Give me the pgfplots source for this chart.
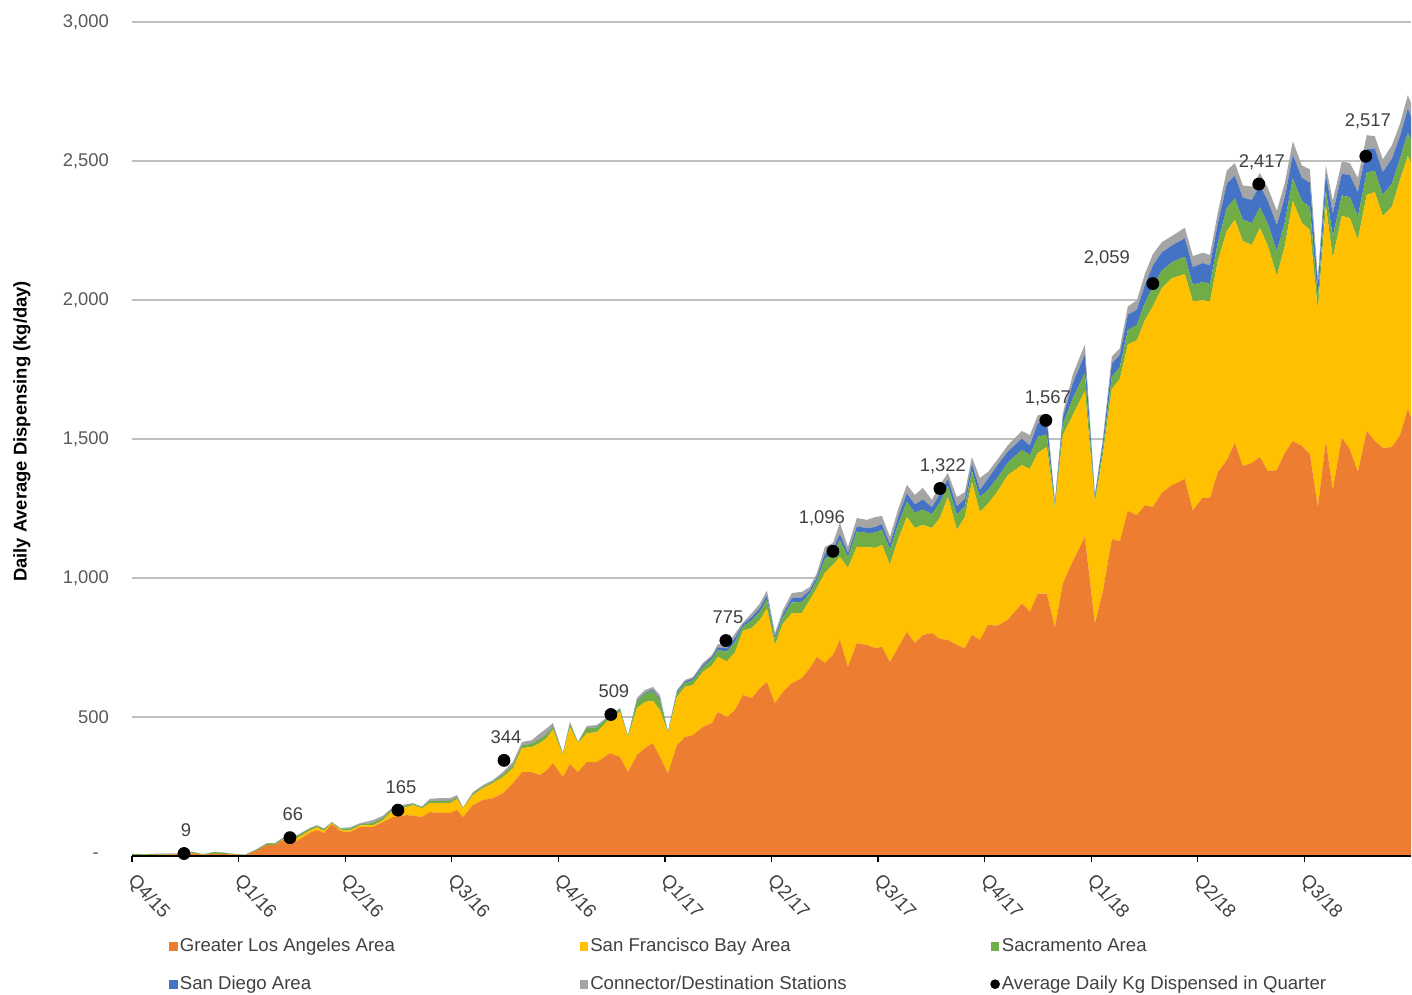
\documentclass[border=0pt]{standalone}
\usepackage{fontspec}
\setmainfont{Liberation Sans}
\usepackage{pgfplots}
\pgfplotsset{compat=1.18}
\usepackage{pgfplotstable}
\definecolor{cLA}{HTML}{ED7D31}
\definecolor{cSF}{HTML}{FFC000}
\definecolor{cSac}{HTML}{70AD47}
\definecolor{cSD}{HTML}{4472C4}
\definecolor{cCon}{HTML}{A5A5A5}
\definecolor{txt}{HTML}{595959}
\definecolor{lbl}{HTML}{404040}
\definecolor{gridc}{HTML}{BFBFBF}

\pgfplotstableread{
x LA SF Sac SD Con
0.000 2 0 5 0 1
0.122 3 0 3 0 1
0.263 5 0 3 0 0
0.403 6 0 2 0 1
0.488 8 0 3 0 1
0.572 10 0 4 0 1
0.666 4 0 2 0 0
0.779 8 0 6 0 1
0.872 7 0 4 0 1
0.966 5 0 2 0 0
1.060 3 0 1 0 0
1.173 20 0 4 0 1
1.266 40 0 5 0 1
1.341 40 0 5 0 1
1.454 66 2 5 0 2
1.548 54 10 7 0 4
1.670 84 8 6 0 3
1.735 93 10 5 0 3
1.801 83 8 5 0 3
1.876 115 3 3 0 1
1.951 90 5 4 0 2
2.045 86 6 6 0 5
2.139 104 6 4 0 4
2.261 104 7 8 0 10
2.355 122 7 8 0 8
2.448 140 25 6 0 5
2.580 147 29 6 0 5
2.636 145 38 4 0 3
2.720 140 32 3 0 3
2.795 158 32 7 0 9
2.889 155 35 8 0 10
2.983 155 35 8 0 10
3.049 165 40 6 0 8
3.105 140 32 1 0 1
3.199 183 36 5 0 6
3.293 201 43 5 0 6
3.386 208 54 5 0 6
3.480 226 58 8 0 10
3.574 262 54 10 0 12
3.659 302 86 10 0 12
3.752 302 90 12 0 13
3.827 291 115 15 0 20
3.893 309 116 15 0 20
3.949 334 121 10 1 12
4.043 284 79 4 0 3
4.109 331 133 12 1 5
4.184 302 104 3 0 1
4.268 338 104 18 1 7
4.362 338 107 18 1 7
4.484 370 126 8 0 3
4.578 356 162 10 1 3
4.653 302 126 3 0 1
4.737 363 169 25 2 9
4.812 388 166 30 3 10
4.887 406 152 35 5 10
4.953 356 169 35 5 14
5.028 298 144 2 1 1
5.113 399 173 15 5 5
5.188 428 180 15 5 5
5.263 435 180 17 6 6
5.356 464 198 18 7 7
5.441 478 207 23 8 7
5.497 518 198 25 10 11
5.582 500 200 35 12 13
5.657 525 207 38 15 15
5.732 579 231 16 7 7
5.816 568 252 28 12 14
5.891 604 245 30 13 16
5.957 626 264 33 14 18
6.032 550 209 22 9 12
6.107 590 245 25 10 15
6.191 622 252 38 15 19
6.285 640 234 40 16 20
6.360 676 245 25 10 12
6.426 716 248 28 11 15
6.501 694 324 50 20 24
6.576 723 324 40 16 23
6.642 777 299 60 22 40
6.717 680 356 40 14 22
6.801 766 346 55 18 31
6.895 759 353 50 18 29
6.970 748 360 55 20 36
7.036 752 367 55 20 29
7.111 698 349 55 20 26
7.186 748 389 55 25 28
7.270 806 413 55 30 31
7.345 766 414 55 30 34
7.420 795 396 55 36 42
7.505 802 378 50 25 26
7.580 781 435 55 30 34
7.655 777 514 40 25 22
7.739 759 414 55 30 33
7.814 748 471 40 25 25
7.880 795 550 40 25 25
7.955 777 460 55 25 43
8.030 831 435 50 40 25
8.124 829 484 50 45 20
8.218 850 520 45 40 23
8.349 908 498 55 40 28
8.424 879 513 50 35 37
8.499 944 506 58 50 28
8.583 944 527 45 50 24
8.659 822 428 12 10 3
8.734 981 533 40 25 14
8.827 1060 526 60 55 31
8.940 1147 526 65 65 37
9.034 836 434 12 12 6
9.109 952 490 25 22 11
9.193 1140 540 44 47 26
9.268 1132 584 42 44 24
9.343 1241 599 52 55 30
9.428 1226 629 55 55 34
9.503 1262 665 62 65 39
9.578 1255 722 72 75 41
9.662 1306 736 63 66 37
9.756 1334 744 58 60 34
9.878 1356 737 63 66 38
9.953 1243 752 60 63 40
10.047 1290 710 65 68 37
10.113 1287 706 64 67 38
10.188 1381 759 67 70 39
10.272 1424 824 83 87 48
10.347 1486 802 78 81 46
10.422 1403 809 76 80 44
10.507 1414 784 79 83 48
10.582 1435 824 75 79 44
10.657 1385 809 79 83 47
10.741 1388 698 89 94 52
10.816 1450 744 86 90 51
10.891 1493 863 81 85 49
10.976 1475 802 79 83 45
11.051 1446 806 83 87 48
11.126 1255 705 45 50 25
11.201 1493 845 56 58 32
11.266 1317 834 78 82 46
11.351 1504 798 74 78 44
11.426 1464 831 75 79 44
11.501 1381 835 84 88 51
11.585 1529 849 81 85 49
11.660 1493 895 77 80 44
11.735 1468 834 77 81 46
11.820 1471 863 84 89 49
11.895 1511 919 77 80 45
11.970 1608 910 83 87 49
12.000 1579 914 82 86 49
}\areadata

\pgfplotstableread{
x y lab dx dy
0.488 9 9 1 8.5
1.482 66 66 1.5 8.5
2.495 165 165 1.5 8.5
3.490 344 344 1 8.5
4.493 509 509 1.5 8.5
5.572 775 775 1 8.3
6.576 1096 1,096 -5.5 14
7.580 1322 1,322 1.5 8.5
8.574 1567 1,567 1 8.3
9.578 2059 2,059 -23 9.8
10.572 2417 2,417 1.5 8.3
11.576 2517 2,517 1 15
}\avgdata

\begin{document}
\begin{tikzpicture}
\begin{axis}[
  at={(0pt,0pt)}, anchor=south west,
  scale only axis, width=639.5pt, height=417pt,
  xmin=0, xmax=12, ymin=0, ymax=3000,
  axis line style={draw=none},
  xtick=\empty,
  ytick={0,500,...,3000},
  yticklabels={{-\hphantom{0}},{500},{1,000},{1,500},{2,000},{2,500},{3,000}},
  ymajorgrids, major grid style={gridc, line width=0.7pt},
  major tick length=0pt,
  tick label style={font=\fontsize{9.2}{11}\selectfont, text=txt},
  yticklabel style={xshift=-8pt},
  ylabel={Daily Average Dispensing (kg/day)},
  ylabel style={at={(axis description cs:-0.086,0.509)}, anchor=center, font=\bfseries\fontsize{9.2}{10}\selectfont, text=black},
  stack plots=y,
  legend columns=3,
  legend cell align=left,
  legend style={at={(0.029,-0.096)}, anchor=north west, draw=none, fill=none,
    font=\fontsize{9.3}{11}\selectfont, text=lbl, column sep=0pt, row sep=8.5pt,
    inner sep=0pt, nodes={inner sep=1pt}},
]
\addplot[fill=cLA, draw=none, legend image code/.code={\fill[cLA] (0pt,-2.2pt) rectangle (4.2pt,2.2pt);}] table[x=x,y=LA]{\areadata} \closedcycle;
\addlegendentry{\makebox[199pt][l]{Greater Los Angeles Area}}
\addplot[fill=cSF, draw=none, legend image code/.code={\fill[cSF] (0pt,-2.2pt) rectangle (4.2pt,2.2pt);}] table[x=x,y=SF]{\areadata} \closedcycle;
\addlegendentry{\makebox[199pt][l]{San Francisco Bay Area}}
\addplot[fill=cSac, draw=none, legend image code/.code={\fill[cSac] (0pt,-2.2pt) rectangle (4.2pt,2.2pt);}] table[x=x,y=Sac]{\areadata} \closedcycle;
\addlegendentry{Sacramento Area}
\addplot[fill=cSD, draw=none, legend image code/.code={\fill[cSD] (0pt,-2.2pt) rectangle (4.2pt,2.2pt);}] table[x=x,y=SD]{\areadata} \closedcycle;
\addlegendentry{\makebox[199pt][l]{San Diego Area}}
\addplot[fill=cCon, draw=none, legend image code/.code={\fill[cCon] (0pt,-2.2pt) rectangle (4.2pt,2.2pt);}] table[x=x,y=Con]{\areadata} \closedcycle;
\addlegendentry{\makebox[199pt][l]{Connector/Destination Stations}}
\addlegendimage{legend image code/.code={\fill[black] (2.2pt,0pt) circle (2.2pt);}}
\addlegendentry{Average Daily Kg Dispensed in Quarter}
\end{axis}

\begin{axis}[
  at={(0pt,0pt)}, anchor=south west,
  scale only axis, width=639.5pt, height=417pt,
  xmin=0, xmax=12, ymin=0, ymax=3000,
  axis x line=bottom, axis y line=none,
  x axis line style={black, line width=0.9pt, -},
  xtick={0,...,11},
  xticklabels={Q4/15,Q1/16,Q2/16,Q3/16,Q4/16,Q1/17,Q2/17,Q3/17,Q4/17,Q1/18,Q2/18,Q3/18},
  tick align=outside, major tick length=3pt,
  tick style={black, line width=0.6pt},
  xticklabel style={rotate=-47, anchor=north west, font=\fontsize{9.4}{11}\selectfont, text=lbl, inner sep=1pt, xshift=4.5pt, yshift=-0.5pt},
  clip=false,
]
\addplot[only marks, mark=*, mark size=3pt, black,
  point meta=explicit symbolic,
  nodes near coords,
  visualization depends on={\thisrow{dx} \as \labdx},
  visualization depends on={\thisrow{dy} \as \labdy},
  every node near coord/.style={anchor=base, xshift=\labdx pt, yshift=\labdy pt, font=\fontsize{9.2}{11}\selectfont, text=lbl, inner sep=0pt},
] table[x=x, y=y, meta=lab] {\avgdata};
\end{axis}
\path[use as bounding box] (-66pt,-69pt) rectangle (640pt,428pt);
\end{tikzpicture}
\end{document}
